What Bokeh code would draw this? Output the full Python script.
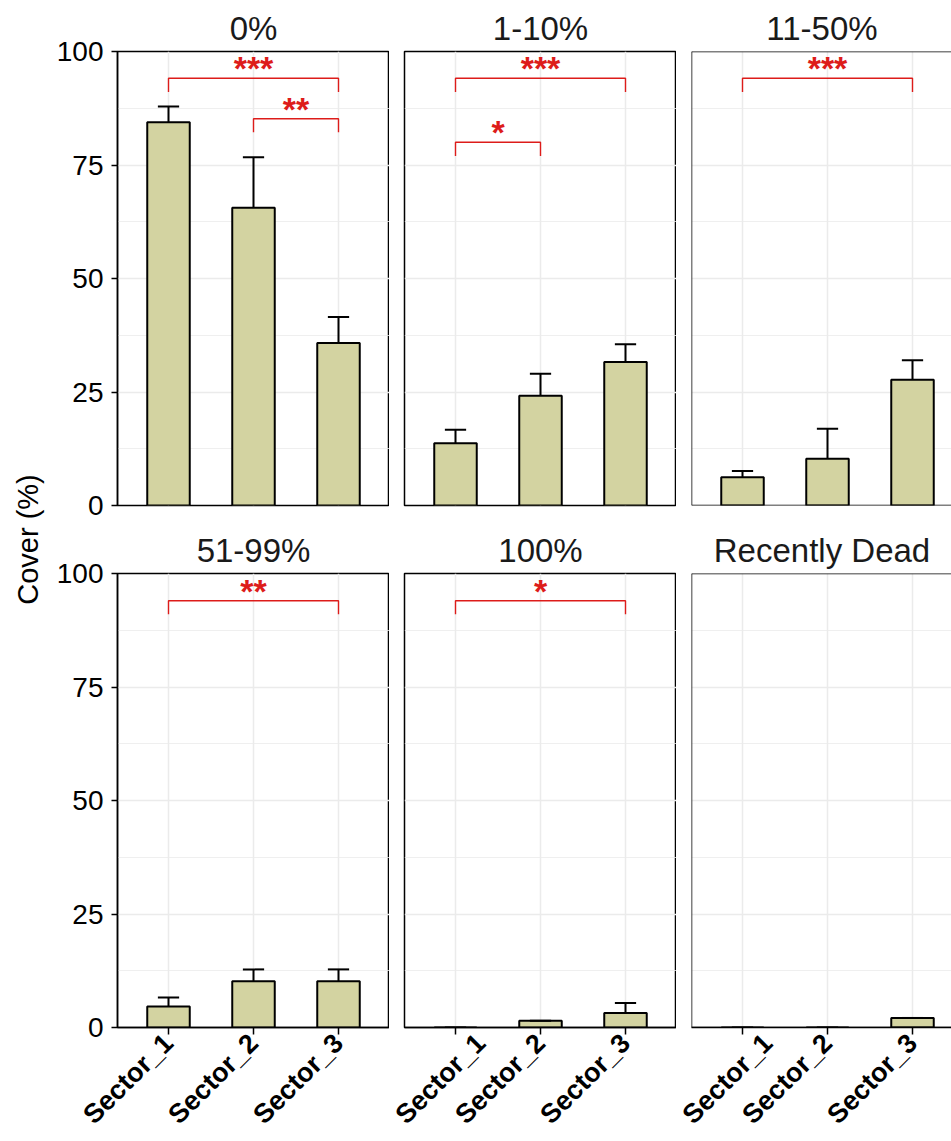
import math
from bokeh.plotting import figure
from bokeh.layouts import row, column
from bokeh.models import Range1d, FixedTicker, Span
from bokeh.core.properties import value
from bokeh.embed import file_html
from bokeh.resources import INLINE

# ---------------- data ----------------
sectors = ["Sector_1", "Sector_2", "Sector_3"]
panel_titles = ["0%", "1-10%", "11-50%", "51-99%", "100%", "Recently Dead"]

cover_0 = [84.4, 65.6, 35.8]
cover_1_10 = [13.7, 24.2, 31.6]
cover_11_50 = [6.2, 10.3, 27.7]
cover_51_99 = [4.6, 10.2, 10.2]
cover_100 = [0.0, 1.5, 3.2]
cover_dead = [0.0, 0.0, 2.1]

se_0 = [3.5, 11.1, 5.7]
se_1_10 = [3.0, 4.8, 3.9]
se_11_50 = [1.4, 6.6, 4.3]
se_51_99 = [2.0, 2.6, 2.6]
se_100 = [0.0, 0.0, 2.2]
se_dead = [0.0, 0.0, 0.0]

y_ticks = [0, 25, 50, 75, 100]
y_minor = [12.5, 37.5, 62.5, 87.5]

# significance brackets
sig_panel = ["0%", "0%", "1-10%", "1-10%", "11-50%", "51-99%", "100%"]
sig_from = ["Sector_1", "Sector_2", "Sector_1", "Sector_1", "Sector_1", "Sector_1", "Sector_1"]
sig_to = ["Sector_3", "Sector_3", "Sector_3", "Sector_2", "Sector_3", "Sector_3", "Sector_3"]
sig_y = [94.1, 85.2, 94.1, 80.0, 94.1, 94.0, 94.0]
sig_label = ["***", "**", "***", "*", "***", "**", "*"]

covers = [cover_0, cover_1_10, cover_11_50, cover_51_99, cover_100, cover_dead]
ses = [se_0, se_1_10, se_11_50, se_51_99, se_100, se_dead]

# ---------------- style ----------------
FONT = "Liberation Sans"
BAR_FILL = "#D3D3A1"
RED = "#DD1C1A"
GRID = "#EBEBEB"
PX_PER_UNIT = 85.0
FRAME_H = 454
TIP = 3.0
LABEL_W = 53
TOP_B = 51
MID_B = 17
BOT_B = 113

xpos = {s: i + 1 for i, s in enumerate(sectors)}


def make_panel(k):
    r, c = divmod(k, 3)
    title = panel_titles[k]
    fw = 272 if c < 2 else 261
    x_end = 0.4 + fw / PX_PER_UNIT
    p = figure(
        frame_width=fw, frame_height=FRAME_H,
        x_range=Range1d(0.4, x_end), y_range=Range1d(0, 100),
        output_backend="svg", toolbar_location=None,
        x_axis_location=("below" if r == 1 else None),
        y_axis_location=("left" if c == 0 else None),
        min_border_left=(115 - LABEL_W if c == 0 else 15), min_border_right=0,
        min_border_top=TOP_B, min_border_bottom=(BOT_B if r == 1 else MID_B),
        title=title,
    )
    p.background_fill_color = "white"
    p.border_fill_color = "white"
    p.title.align = "center"
    p.title.text_font = FONT
    p.title.text_font_size = "33px"
    p.title.text_font_style = "normal"
    p.title.text_color = "#1A1A1A"
    p.title.standoff = 10
    if c == 2:
        p.title.offset = 6

    if c < 2:
        p.outline_line_color = "black"
        p.outline_line_width = 1.5
    else:
        p.outline_line_color = None
        for loc, dim in ((0.4, "height"), (100, "width"), (0, "width")):
            p.add_layout(Span(location=loc, dimension=dim, line_color="black", line_width=1.5))

    p.xgrid.ticker = FixedTicker(ticks=[xpos[s] for s in sectors])
    p.xgrid.grid_line_color = GRID
    p.xgrid.grid_line_width = 1.5
    p.ygrid.ticker = FixedTicker(ticks=y_ticks, minor_ticks=y_minor)
    p.ygrid.grid_line_color = GRID
    p.ygrid.grid_line_width = 1.5
    p.ygrid.minor_grid_line_color = GRID
    p.ygrid.minor_grid_line_width = 0.8

    if c == 0:
        ax = p.yaxis[0]
        ax.ticker = FixedTicker(ticks=y_ticks)
        ax.major_label_text_font = FONT
        ax.major_label_text_font_size = "28px"
        ax.major_label_text_color = "black"
        ax.major_tick_out = 6
        ax.major_tick_in = 0
        ax.major_tick_line_width = 1.5
        ax.major_tick_line_color = "black"
        ax.minor_tick_line_color = None
        ax.axis_line_color = "black"
        ax.axis_line_width = 1.5
        ax.major_label_standoff = 8
    if r == 1:
        ax = p.xaxis[0]
        ax.ticker = FixedTicker(ticks=[xpos[s] for s in sectors])
        ax.major_label_overrides = {xpos[s]: s for s in sectors}
        ax.major_label_orientation = math.pi / 4
        ax.major_label_text_font = FONT
        ax.major_label_text_font_style = "bold"
        ax.major_label_text_font_size = "27px"
        ax.major_label_text_color = "black"
        ax.major_tick_out = 7
        ax.major_tick_in = 0
        ax.major_tick_line_width = 1.5
        ax.major_tick_line_color = "black"
        ax.minor_tick_line_color = None
        ax.axis_line_color = "black"
        ax.axis_line_width = 1.5
        ax.major_label_standoff = 4

    xs = [xpos[s] for s in sectors]
    cov = covers[k]
    se = ses[k]
    tops = [m + e for m, e in zip(cov, se)]
    p.vbar(x=xs, top=cov, bottom=0, width=0.5, fill_color=BAR_FILL,
           line_color="black", line_width=2)
    p.segment(x0=xs, y0=cov, x1=xs, y1=tops, line_color="black", line_width=2)
    p.segment(x0=[x - 0.125 for x in xs], y0=tops, x1=[x + 0.125 for x in xs], y1=tops,
              line_color="black", line_width=2)

    # significance brackets
    for pn, a, b, y, lab in zip(sig_panel, sig_from, sig_to, sig_y, sig_label):
        if pn != title:
            continue
        x1, x2 = xpos[a], xpos[b]
        p.multi_line(xs=[[x1, x1, x2, x2]], ys=[[y - TIP, y, y, y - TIP]],
                     line_color=RED, line_width=1.4)
        p.text(x=[(x1 + x2) / 2], y=[y], text=[lab], text_align="center",
               text_baseline="alphabetic", text_font=value(FONT),
               text_font_style="bold",
               text_font_size="34px", text_color=RED, y_offset=-10)
    return p


panels = [make_panel(k) for k in range(6)]

# y-axis title as a narrow figure spanning both rows
TOTAL_H = (TOP_B + FRAME_H + MID_B) + (TOP_B + FRAME_H + BOT_B)
lab = figure(width=LABEL_W, height=TOTAL_H, x_range=Range1d(0, LABEL_W),
             y_range=Range1d(0, TOTAL_H),
             output_backend="svg", toolbar_location=None,
             x_axis_location=None, y_axis_location=None,
             min_border_left=0, min_border_right=0, min_border_top=0, min_border_bottom=0)
lab.grid.visible = False
lab.outline_line_color = None
lab.text(x=[27], y=[TOTAL_H - 539], text=["Cover (%)"], angle=math.pi / 2,
         text_align="center", text_baseline="middle", text_font=value(FONT),
         text_font_size="29px", text_color="black")

layout = row(lab, column(row(*panels[:3]), row(*panels[3:])))

open("out.html", "w").write(file_html(layout, INLINE, "Cover"))
